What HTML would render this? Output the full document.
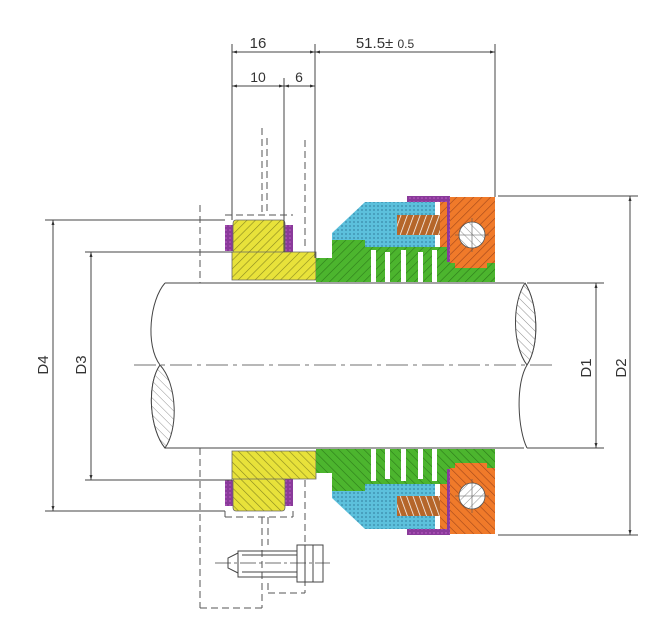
<!DOCTYPE html>
<html><head><meta charset="utf-8"><style>
html,body{margin:0;padding:0;background:#fff;}
svg{display:block}
text{font-family:"Liberation Sans",sans-serif;fill:#333}
</style></head><body>
<svg width="662" height="643" viewBox="0 0 662 643" xmlns="http://www.w3.org/2000/svg">
<defs>
<pattern id="hy" width="6" height="6" patternUnits="userSpaceOnUse" patternTransform="rotate(45)"><rect width="6" height="6" fill="#e8e23a"/><line x1="0" y1="0" x2="0" y2="6" stroke="#8a8a20" stroke-width="1.2"/></pattern>
<pattern id="hg" width="6" height="6" patternUnits="userSpaceOnUse" patternTransform="rotate(45)"><rect width="6" height="6" fill="#4cb52e"/><line x1="0" y1="0" x2="0" y2="6" stroke="#2c7a1a" stroke-width="1.2"/></pattern>
<pattern id="ho" width="6" height="6" patternUnits="userSpaceOnUse" patternTransform="rotate(45)"><rect width="6" height="6" fill="#f07a2a"/><line x1="0" y1="0" x2="0" y2="6" stroke="#a0461a" stroke-width="1.2"/></pattern>
<pattern id="hb" width="4" height="4" patternUnits="userSpaceOnUse"><rect width="4" height="4" fill="#5cc0dc"/><circle cx="2" cy="2" r="0.9" fill="#3a8aa8"/></pattern>
<pattern id="hp" width="4" height="4" patternUnits="userSpaceOnUse"><rect width="4" height="4" fill="#8a3a9a"/><circle cx="2" cy="2" r="0.8" fill="#c060c8"/></pattern>
<pattern id="hs" width="6" height="6" patternUnits="userSpaceOnUse" patternTransform="rotate(-45)"><rect width="6" height="6" fill="#fff"/><line x1="0" y1="0" x2="0" y2="6" stroke="#777" stroke-width="0.8"/></pattern>
<pattern id="hsp" width="6" height="6" patternUnits="userSpaceOnUse" patternTransform="rotate(20)"><rect width="6" height="6" fill="#b5662a"/><line x1="0" y1="0" x2="0" y2="6" stroke="#fff" stroke-width="1.5"/></pattern>
<marker id="ar" viewBox="0 0 10 10" refX="10" refY="5" markerWidth="7" markerHeight="5" orient="auto-start-reverse"><path d="M0,2 L10,5 L0,8 z" fill="#333"/></marker>
<g id="seal">
 <!-- stationary seat -->
 <rect x="225" y="225" width="8" height="26" fill="url(#hp)"/>
 <rect x="285" y="225" width="8" height="27" fill="url(#hp)"/>
 <path d="M236,220 H282 Q285,220 285,224 V252 H316 V280 H232 V252 H233 V224 Q233,220 236,220 Z" fill="url(#hy)" stroke="#666" stroke-width="0.8"/>
 <line x1="232" y1="252" x2="285" y2="252" stroke="#666" stroke-width="0.8"/>
 <!-- rotary -->
 <path d="M316,258 H332 V237 H365 V247 H450 V263 H455 V268 H487 V263 H495 V282 H332 V282 H316 Z" fill="url(#hg)"/>
 <g fill="#fff"><rect x="371" y="250" width="5" height="34"/><rect x="385" y="252" width="5" height="32"/><rect x="401" y="250" width="5" height="34"/><rect x="418" y="252" width="5" height="32"/><rect x="432" y="250" width="5" height="34"/></g>
 <path d="M365,202 H435 V247 H365 V240 H332 V233 Z" fill="url(#hb)"/>
 <rect x="407" y="196" width="43" height="6" fill="url(#hp)"/>
 <rect x="435" y="202" width="5" height="45" fill="#fff"/>
 <rect x="440" y="202" width="7" height="45" fill="url(#ho)"/>
 <rect x="447" y="202" width="3" height="60" fill="url(#hp)"/>
 <path d="M450,197 H495 V263 H487 V268 H455 V263 H450 Z" fill="url(#ho)"/>
 <circle cx="472" cy="235" r="13" fill="url(#hs)" stroke="#555" stroke-width="0.8"/>
 <line x1="472" y1="218" x2="472" y2="252" stroke="#555" stroke-width="0.6"/>
 <line x1="455" y1="235" x2="489" y2="235" stroke="#555" stroke-width="0.6"/>
 <rect x="397" y="215" width="43" height="20" fill="url(#hsp)"/>
</g>
</defs>
<use href="#seal"/>
<use href="#seal" transform="matrix(1,0,0,-1,0,731)"/>
<g stroke="#444" stroke-width="1" fill="none">
 <!-- shaft -->
 <line x1="165" y1="283" x2="524" y2="283"/>
 <line x1="165" y1="448" x2="524" y2="448"/>
 <path d="M165,283 C150,300 145,345 160,365"/>
 <path d="M160,365 C146,385 150,430 165,448"/>
 <path d="M525,283 C538,303 540,345 527,365"/>
 <path d="M527,365 C515,385 518,430 527,448"/>
 <path d="M160,365 C146,385 150,430 165,448 C178,430 178,385 160,365Z" fill="url(#hs)" transform="translate(0,0)"/>
 <path d="M525,283 C538,303 540,345 527,365 C512,345 512,303 525,283Z" fill="url(#hs)"/>
 <line x1="134" y1="365" x2="555" y2="365" stroke-dasharray="22,5,4,5" stroke-width="0.8"/>
 <!-- dims -->
 <line x1="232" y1="44" x2="232" y2="220"/>
 <line x1="315" y1="44" x2="315" y2="258"/>
 <line x1="495" y1="44" x2="495" y2="197"/>
 <line x1="284" y1="78" x2="284" y2="252"/>
 <line x1="232" y1="52" x2="315" y2="52" marker-start="url(#ar)" marker-end="url(#ar)"/>
 <line x1="315" y1="52" x2="495" y2="52" marker-start="url(#ar)" marker-end="url(#ar)"/>
 <line x1="232" y1="86" x2="284" y2="86" marker-start="url(#ar)" marker-end="url(#ar)"/>
 <line x1="284" y1="86" x2="315" y2="86" marker-start="url(#ar)" marker-end="url(#ar)"/>
 <line x1="45" y1="220" x2="225" y2="220"/><line x1="45" y1="511" x2="225" y2="511"/>
 <line x1="85" y1="252" x2="232" y2="252"/><line x1="85" y1="480" x2="232" y2="480"/>
 <line x1="53" y1="220" x2="53" y2="511" marker-start="url(#ar)" marker-end="url(#ar)"/>
 <line x1="91" y1="252" x2="91" y2="480" marker-start="url(#ar)" marker-end="url(#ar)"/>
 <line x1="527" y1="283" x2="604" y2="283"/><line x1="527" y1="448" x2="604" y2="448"/>
 <line x1="596" y1="283" x2="596" y2="448" marker-start="url(#ar)" marker-end="url(#ar)"/>
 <line x1="498" y1="196" x2="638" y2="196"/><line x1="498" y1="535" x2="638" y2="535"/>
 <line x1="630" y1="196" x2="630" y2="535" marker-start="url(#ar)" marker-end="url(#ar)"/>
</g>
<g stroke="#555" stroke-width="1" fill="none" stroke-dasharray="7,4">
 <line x1="200" y1="205" x2="200" y2="283"/>
 <line x1="200" y1="448" x2="200" y2="608"/>
 <line x1="200" y1="608" x2="262" y2="608"/>
 <line x1="262" y1="517" x2="262" y2="608"/>
 <line x1="268" y1="517" x2="268" y2="545"/>
 <line x1="268" y1="583" x2="268" y2="593"/>
 <line x1="268" y1="593" x2="305" y2="593"/>
 <line x1="305" y1="480" x2="305" y2="593"/>
 <line x1="225" y1="517" x2="293" y2="517"/>
 <line x1="225" y1="511" x2="225" y2="517"/>
 <line x1="293" y1="511" x2="293" y2="517"/>
 <line x1="225" y1="215" x2="293" y2="215"/>
 <line x1="262" y1="128" x2="262" y2="215"/>
 <line x1="267" y1="138" x2="267" y2="215"/>
 <line x1="305" y1="140" x2="305" y2="250"/>
</g>
<g stroke="#444" stroke-width="1" fill="none">
 <path d="M238,551 H297 V577 H238 Z"/>
 <path d="M238,553 L228,558 V568 L238,573"/>
 <line x1="242" y1="555" x2="297" y2="555"/><line x1="242" y1="572" x2="297" y2="572"/>
 <rect x="297" y="545" width="26" height="37"/>
 <line x1="305" y1="545" x2="305" y2="582"/><line x1="313" y1="545" x2="313" y2="582"/>
 <line x1="215" y1="563" x2="330" y2="563" stroke-dasharray="16,3,3,3" stroke-width="0.8"/>
</g>
<text x="258" y="48" font-size="15" text-anchor="middle">16</text>
<text x="385" y="48" font-size="15" text-anchor="middle">51.5± <tspan font-size="12">0.5</tspan></text>
<text x="258" y="82" font-size="14" text-anchor="middle">10</text>
<text x="299" y="82" font-size="14" text-anchor="middle">6</text>
<text transform="translate(48,365) rotate(-90)" font-size="15" text-anchor="middle">D4</text>
<text transform="translate(86,365) rotate(-90)" font-size="15" text-anchor="middle">D3</text>
<text transform="translate(591,368) rotate(-90)" font-size="15" text-anchor="middle">D1</text>
<text transform="translate(626,368) rotate(-90)" font-size="15" text-anchor="middle">D2</text>
</svg>
</body></html>
